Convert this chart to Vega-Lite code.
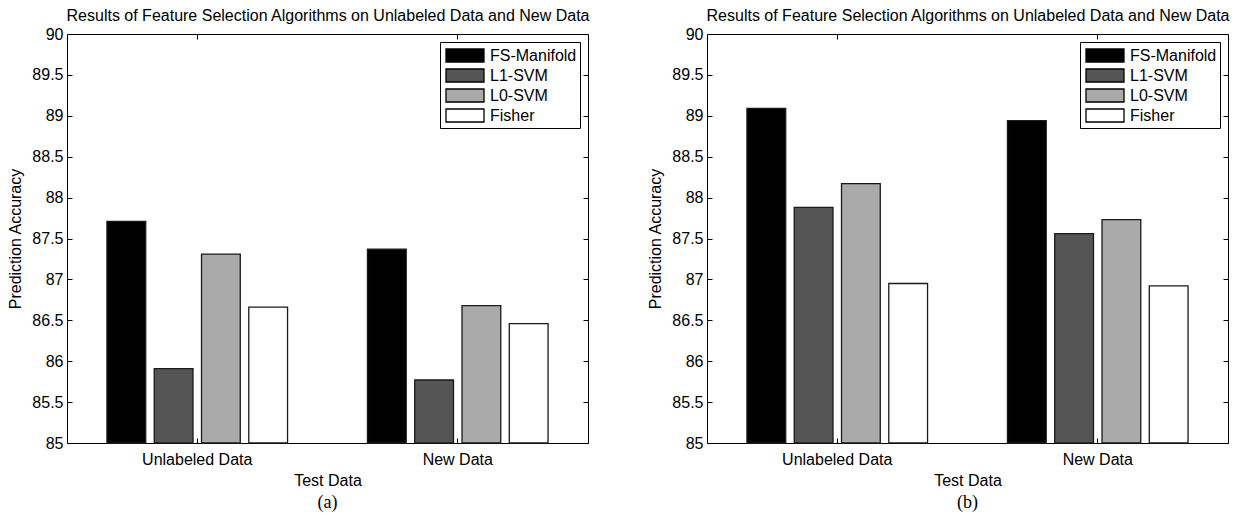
{
  "$schema": "https://vega.github.io/schema/vega-lite/v6.json",
  "background": "white",
  "padding": {"left": 7, "top": 7, "right": 0, "bottom": 0},
  "datasets": {
    "a": [
      {"test": "Unlabeled Data", "method": "FS-Manifold", "accuracy": 87.71},
      {"test": "Unlabeled Data", "method": "L1-SVM", "accuracy": 85.91},
      {"test": "Unlabeled Data", "method": "L0-SVM", "accuracy": 87.31},
      {"test": "Unlabeled Data", "method": "Fisher", "accuracy": 86.66},
      {"test": "New Data", "method": "FS-Manifold", "accuracy": 87.37},
      {"test": "New Data", "method": "L1-SVM", "accuracy": 85.77},
      {"test": "New Data", "method": "L0-SVM", "accuracy": 86.68},
      {"test": "New Data", "method": "Fisher", "accuracy": 86.46}
    ],
    "b": [
      {"test": "Unlabeled Data", "method": "FS-Manifold", "accuracy": 89.09},
      {"test": "Unlabeled Data", "method": "L1-SVM", "accuracy": 87.88},
      {"test": "Unlabeled Data", "method": "L0-SVM", "accuracy": 88.17},
      {"test": "Unlabeled Data", "method": "Fisher", "accuracy": 86.95},
      {"test": "New Data", "method": "FS-Manifold", "accuracy": 88.94},
      {"test": "New Data", "method": "L1-SVM", "accuracy": 87.56},
      {"test": "New Data", "method": "L0-SVM", "accuracy": 87.73},
      {"test": "New Data", "method": "Fisher", "accuracy": 86.92}
    ]
  },
  "config": {
    "font": "Liberation Sans",
    "view": {"stroke": "black", "strokeWidth": 1},
    "axis": {
      "domain": false, "grid": false,
      "labelFont": "Liberation Sans", "labelFontSize": 16, "labelColor": "black",
      "titleFont": "Liberation Sans", "titleFontSize": 16, "titleFontWeight": "normal", "titleColor": "black",
      "tickColor": "black", "tickSize": -5, "tickWidth": 1
    },
    "legend": {
      "orient": "top-right", "offset": 8, "strokeColor": "black", "fillColor": "white",
      "padding": 3, "cornerRadius": 0,
      "labelFont": "Liberation Sans", "labelFontSize": 16, "labelColor": "black",
      "symbolType": "M-0.79,-0.684H3.21V0.684H-0.79Z", "symbolSize": 361,
      "symbolStrokeColor": "black", "symbolStrokeWidth": 1.3, "symbolOpacity": 1,
      "rowPadding": 0, "labelOffset": 26
    }
  },
  "spacing": 57,
  "resolve": {"scale": {"color": "independent"}, "legend": {"color": "independent"}},
  "hconcat": [
    {
      "width": 521, "height": 409,
      "data": {"name": "a"},
      "title": {"text": "(a)", "orient": "bottom", "font": "Liberation Serif", "fontSize": 18, "fontWeight": "normal", "color": "black", "frame": "group", "offset": 6},
      "layer": [
        {
          "mark": {"type": "bar", "stroke": "#1a1a1a", "strokeWidth": 1.3},
          "encoding": {
            "x": {"field": "test", "type": "nominal", "sort": ["Unlabeled Data", "New Data"],
              "scale": {"paddingInner": 0.274, "paddingOuter": 0.137},
              "axis": {"orient": "bottom", "title": "Test Data", "labelAngle": 0, "labelPadding": 13, "titlePadding": 5, "bandPosition": 0.5}},
            "xOffset": {"field": "method", "type": "nominal", "sort": ["FS-Manifold", "L1-SVM", "L0-SVM", "Fisher"],
              "scale": {"paddingInner": 0.18, "paddingOuter": 0.09}},
            "y": {"field": "accuracy", "type": "quantitative", "stack": null,
              "scale": {"domain": [85, 90], "zero": false, "nice": false},
              "axis": {"orient": "left", "title": "Prediction Accuracy", "values": [85, 85.5, 86, 86.5, 87, 87.5, 88, 88.5, 89, 89.5, 90], "format": "~g", "labelPadding": 9, "titlePadding": 8}},
            "color": {"field": "method", "type": "nominal", "sort": ["FS-Manifold", "L1-SVM", "L0-SVM", "Fisher"],
              "scale": {"domain": ["FS-Manifold", "L1-SVM", "L0-SVM", "Fisher"], "range": ["#000000", "#555555", "#aaaaaa", "#ffffff"]},
              "legend": {"title": null, "orient": "top-right"}}
          }
        },
        {
          "mark": {"type": "bar", "opacity": 0},
          "encoding": {
            "x": {"field": "test", "type": "nominal", "sort": ["Unlabeled Data", "New Data"],
              "scale": {"paddingInner": 0.274, "paddingOuter": 0.137},
              "axis": {"orient": "top", "labels": false, "title": "Results of Feature Selection Algorithms on Unlabeled Data and New Data", "titlePadding": 10, "bandPosition": 0.5}},
            "y": {"field": "accuracy", "type": "quantitative", "stack": null,
              "scale": {"domain": [85, 90], "zero": false, "nice": false},
              "axis": {"orient": "right", "labels": false, "title": null, "values": [85, 85.5, 86, 86.5, 87, 87.5, 88, 88.5, 89, 89.5, 90]}}
          }
        }
      ],
      "resolve": {"axis": {"x": "independent", "y": "independent"}}
    },
    {
      "width": 521, "height": 409,
      "data": {"name": "b"},
      "title": {"text": "(b)", "orient": "bottom", "font": "Liberation Serif", "fontSize": 18, "fontWeight": "normal", "color": "black", "frame": "group", "offset": 6},
      "layer": [
        {
          "mark": {"type": "bar", "stroke": "#1a1a1a", "strokeWidth": 1.3},
          "encoding": {
            "x": {"field": "test", "type": "nominal", "sort": ["Unlabeled Data", "New Data"],
              "scale": {"paddingInner": 0.274, "paddingOuter": 0.137},
              "axis": {"orient": "bottom", "title": "Test Data", "labelAngle": 0, "labelPadding": 13, "titlePadding": 5, "bandPosition": 0.5}},
            "xOffset": {"field": "method", "type": "nominal", "sort": ["FS-Manifold", "L1-SVM", "L0-SVM", "Fisher"],
              "scale": {"paddingInner": 0.18, "paddingOuter": 0.09}},
            "y": {"field": "accuracy", "type": "quantitative", "stack": null,
              "scale": {"domain": [85, 90], "zero": false, "nice": false},
              "axis": {"orient": "left", "title": "Prediction Accuracy", "values": [85, 85.5, 86, 86.5, 87, 87.5, 88, 88.5, 89, 89.5, 90], "format": "~g", "labelPadding": 9, "titlePadding": 8}},
            "color": {"field": "method", "type": "nominal", "sort": ["FS-Manifold", "L1-SVM", "L0-SVM", "Fisher"],
              "scale": {"domain": ["FS-Manifold", "L1-SVM", "L0-SVM", "Fisher"], "range": ["#000000", "#555555", "#aaaaaa", "#ffffff"]},
              "legend": {"title": null, "orient": "top-right"}}
          }
        },
        {
          "mark": {"type": "bar", "opacity": 0},
          "encoding": {
            "x": {"field": "test", "type": "nominal", "sort": ["Unlabeled Data", "New Data"],
              "scale": {"paddingInner": 0.274, "paddingOuter": 0.137},
              "axis": {"orient": "top", "labels": false, "title": "Results of Feature Selection Algorithms on Unlabeled Data and New Data", "titlePadding": 10, "bandPosition": 0.5}},
            "y": {"field": "accuracy", "type": "quantitative", "stack": null,
              "scale": {"domain": [85, 90], "zero": false, "nice": false},
              "axis": {"orient": "right", "labels": false, "title": null, "values": [85, 85.5, 86, 86.5, 87, 87.5, 88, 88.5, 89, 89.5, 90]}}
          }
        }
      ],
      "resolve": {"axis": {"x": "independent", "y": "independent"}}
    }
  ]
}
